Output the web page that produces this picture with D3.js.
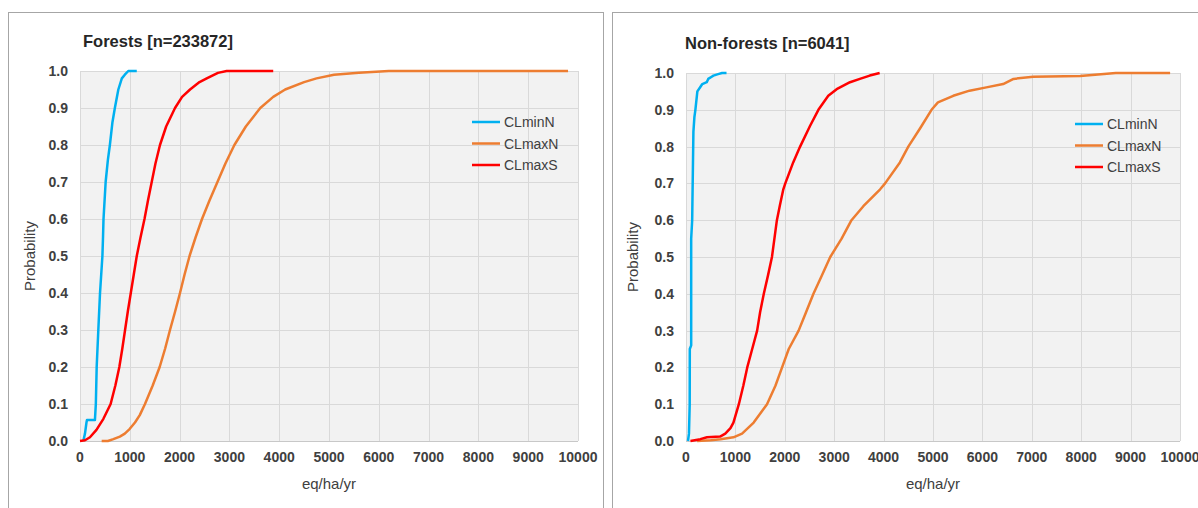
<!DOCTYPE html>
<html>
<head>
<meta charset="utf-8">
<script src="https://cdn.jsdelivr.net/npm/d3@7"></script>
<style>
body { margin: 0; background: #fff; }
svg { display: block; font-family: "Liberation Sans", Arial, sans-serif; }
.tick-label { font-size: 14px; font-weight: bold; fill: #404040; }
.title { font-size: 16.5px; font-weight: bold; fill: #262626; }
.axis-title { font-size: 15px; fill: #404040; }
.legend-text { font-size: 14px; fill: #404040; }
</style>
</head>
<body>
<div id="chart"></div>
<script>
// tick labels
const xTicks = [0, 1000, 2000, 3000, 4000, 5000, 6000, 7000, 8000, 9000, 10000]
const yTicks = [0, 0.1, 0.2, 0.3, 0.4, 0.5, 0.6, 0.7, 0.8, 0.9, 1.0]
const seriesNames = ['CLminN', 'CLmaxN', 'CLmaxS']
const seriesColors = ['#00b0f0', '#ed7d31', '#ff0000']

// Forests [n=233872] - [eq/ha/yr, probability]
const forestMinN = [[67,0],[100,0.02],[130,0.05],[140,0.057],[300,0.057],[318,0.1],[335,0.2],[368,0.3],[402,0.4],[450,0.5],[462,0.55],[472,0.6],[515,0.7],[560,0.76],[600,0.8],[650,0.86],[700,0.9],[770,0.95],[840,0.98],[900,0.99],[970,1.0],[1140,1.0]]
const forestMaxN = [[435,0],[560,0],[670,0.005],[800,0.012],[900,0.02],[1000,0.033],[1104,0.05],[1200,0.07],[1305,0.1],[1460,0.15],[1600,0.2],[1710,0.25],[1807,0.3],[1910,0.35],[2008,0.4],[2100,0.45],[2200,0.5],[2320,0.55],[2450,0.6],[2600,0.65],[2760,0.7],[2920,0.75],[3100,0.8],[3330,0.85],[3620,0.9],[3880,0.93],[4120,0.95],[4500,0.97],[4750,0.98],[5100,0.99],[5600,0.995],[6200,1.0],[9800,1.0]]
const forestMaxS = [[0,0],[100,0.002],[200,0.01],[330,0.03],[470,0.06],[615,0.1],[710,0.15],[790,0.2],[850,0.25],[905,0.3],[960,0.35],[1020,0.4],[1080,0.45],[1140,0.5],[1215,0.55],[1295,0.6],[1365,0.65],[1440,0.7],[1515,0.75],[1606,0.8],[1730,0.85],[1908,0.9],[2050,0.93],[2210,0.95],[2400,0.97],[2545,0.98],[2770,0.995],[2945,1.0],[3880,1.0]]

// Non-forests [n=6041]
const nonForestMinN = [[40,0],[60,0.02],[75,0.1],[77,0.25],[105,0.26],[105,0.55],[125,0.6],[130,0.65],[150,0.84],[170,0.88],[190,0.9],[230,0.95],[290,0.962],[330,0.97],[420,0.975],[450,0.984],[520,0.99],[555,0.993],[650,0.997],[730,1.0],[820,1.0]]
const nonForestMaxN = [[225,0],[500,0.002],[700,0.005],[960,0.01],[1135,0.02],[1370,0.05],[1640,0.1],[1810,0.15],[1945,0.2],[2080,0.25],[2280,0.3],[2430,0.35],[2580,0.4],[2750,0.45],[2920,0.5],[3150,0.55],[3350,0.6],[3590,0.638],[3930,0.684],[4030,0.7],[4330,0.757],[4500,0.8],[4740,0.85],[4970,0.9],[5100,0.92],[5410,0.938],[5740,0.952],[6080,0.961],[6420,0.97],[6630,0.984],[7030,0.99],[7980,0.992],[8520,0.998],[8700,1.0],[9800,1.0]]
const nonForestMaxS = [[90,0],[290,0.005],[425,0.01],[690,0.012],[795,0.02],[900,0.035],[960,0.05],[1070,0.1],[1160,0.15],[1240,0.2],[1340,0.25],[1440,0.3],[1500,0.35],[1575,0.4],[1660,0.45],[1740,0.5],[1800,0.56],[1840,0.6],[1900,0.64],[1970,0.684],[2010,0.7],[2170,0.757],[2310,0.8],[2510,0.856],[2680,0.9],[2880,0.938],[3050,0.956],[3320,0.975],[3520,0.984],[3720,0.993],[3920,1.0]]

const width = 1198, height = 508

let svg = d3.select('#chart').append('svg')
.attr('width', width)
.attr('height', height)

let panels = [
	{ title: 'Forests [n=233872]', series: [forestMinN, forestMaxN, forestMaxS],
	  box: [8, 12, 603], plot: { left: 80, right: 578, top: 71, bottom: 441 },
	  titleAt: [83, 47], ylabX: 30, legend: { x: 472, y: 122 } },
	{ title: 'Non-forests [n=6041]', series: [nonForestMinN, nonForestMaxN, nonForestMaxS],
	  box: [612, 12, 1240], plot: { left: 686, right: 1180, top: 73, bottom: 441 },
	  titleAt: [685, 49], ylabX: 633, legend: { x: 1075, y: 124 } }
]

panels.forEach(p => {

	let g = svg.append('g')

	// outer chart frame
	g.append('rect')
	.attr('x', p.box[0] + 0.5)
	.attr('y', p.box[1] + 0.5)
	.attr('width', p.box[2] - p.box[0])
	.attr('height', 600)
	.attr('fill', '#fff')
	.attr('stroke', '#a6a6a6')

	let x = d3.scaleLinear().domain([0, 10000]).range([p.plot.left, p.plot.right])
	let y = d3.scaleLinear().domain([0, 1]).range([p.plot.bottom, p.plot.top])

	g.append('rect')
	.attr('x', p.plot.left)
	.attr('y', p.plot.top)
	.attr('width', p.plot.right - p.plot.left)
	.attr('height', p.plot.bottom - p.plot.top)
	.attr('fill', '#f2f2f2')

	g.append('g').selectAll('line')
	.data(xTicks)
	.enter()
	.append('line')
	.attr('x1', d => Math.round(x(d)) + 0.5)
	.attr('x2', d => Math.round(x(d)) + 0.5)
	.attr('y1', p.plot.top)
	.attr('y2', p.plot.bottom)
	.attr('stroke', '#d9d9d9')

	g.append('g').selectAll('line')
	.data(yTicks)
	.enter()
	.append('line')
	.attr('x1', p.plot.left)
	.attr('x2', p.plot.right)
	.attr('y1', d => Math.round(y(d)) + 0.5)
	.attr('y2', d => Math.round(y(d)) + 0.5)
	.attr('stroke', d => d === 0 ? '#c8c8c8' : '#d9d9d9')

	g.append('g').selectAll('text')
	.data(xTicks)
	.enter()
	.append('text')
	.attr('class', 'tick-label')
	.attr('x', d => x(d))
	.attr('y', p.plot.bottom + 21)
	.attr('text-anchor', 'middle')
	.text(d => d)

	g.append('g').selectAll('text')
	.data(yTicks)
	.enter()
	.append('text')
	.attr('class', 'tick-label')
	.attr('x', p.plot.left - 12)
	.attr('y', d => y(d) + 5)
	.attr('text-anchor', 'end')
	.text(d => d3.format('.1f')(d))

	g.append('text')
	.attr('class', 'title')
	.attr('x', p.titleAt[0])
	.attr('y', p.titleAt[1])
	.text(p.title)

	g.append('text')
	.attr('class', 'axis-title')
	.attr('x', (p.plot.left + p.plot.right) / 2)
	.attr('y', 489)
	.attr('text-anchor', 'middle')
	.text('eq/ha/yr')

	g.append('text')
	.attr('class', 'axis-title')
	.attr('transform', 'translate(' + (p.ylabX + 5) + ',' + ((p.plot.top + p.plot.bottom) / 2) + ') rotate(-90)')
	.attr('text-anchor', 'middle')
	.text('Probability')

	let line = d3.line()
	.x(d => x(d[0]))
	.y(d => y(d[1]))

	g.append('g').selectAll('path')
	.data(p.series)
	.enter()
	.append('path')
	.attr('d', line)
	.attr('fill', 'none')
	.attr('stroke', (d, i) => seriesColors[i])
	.attr('stroke-width', 2.5)
	.attr('stroke-linejoin', 'round')

	let legend = g.append('g').selectAll('g')
	.data(seriesNames)
	.enter()
	.append('g')
	.attr('transform', (d, i) => 'translate(' + p.legend.x + ',' + (p.legend.y + i * 21.5) + ')')

	legend.append('line')
	.attr('x1', 0)
	.attr('x2', 28)
	.attr('stroke', (d, i) => seriesColors[i])
	.attr('stroke-width', 2.5)

	legend.append('text')
	.attr('class', 'legend-text')
	.attr('x', 32)
	.attr('y', 5)
	.text(d => d)
})
</script>
</body>
</html>
